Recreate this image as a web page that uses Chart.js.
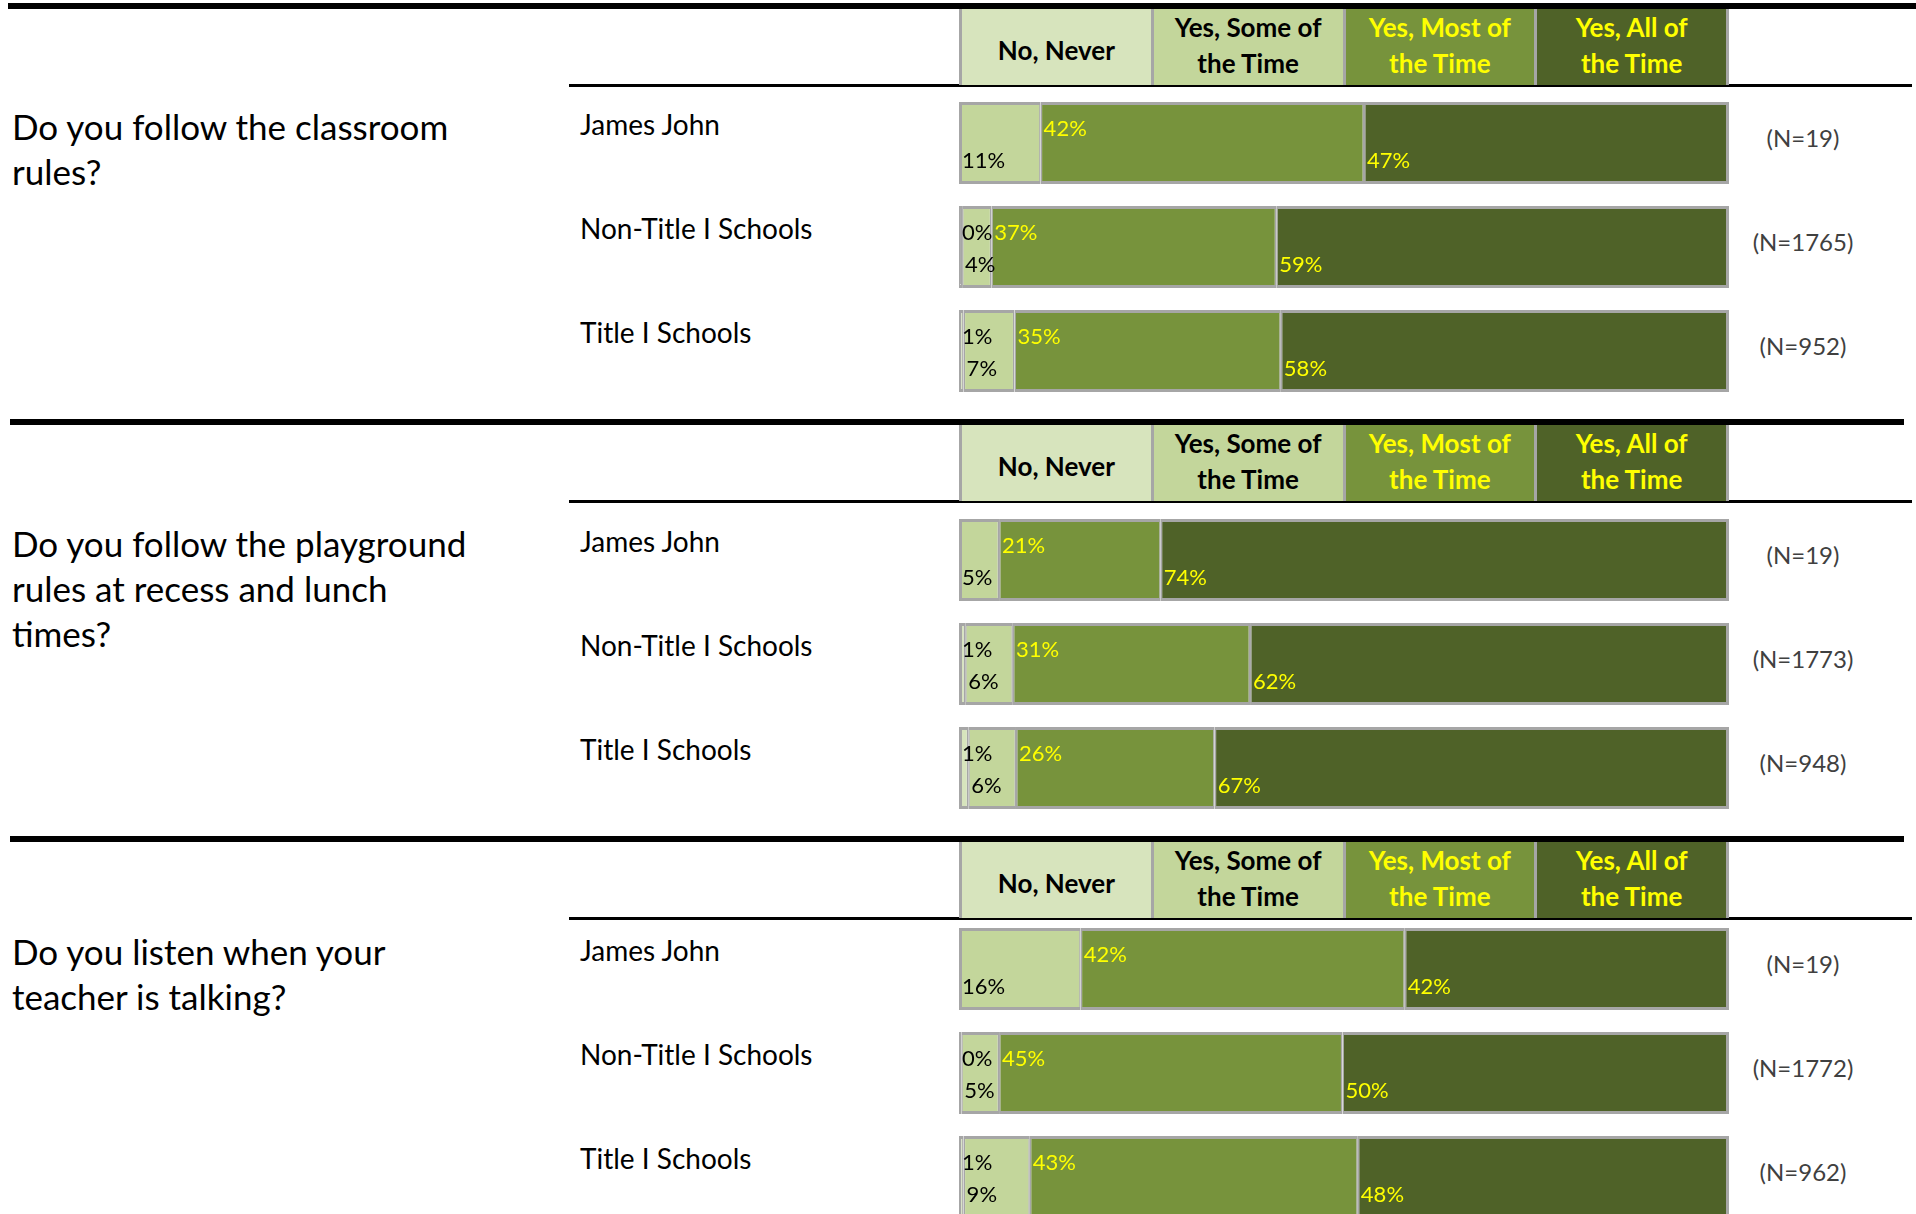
<!DOCTYPE html>
<html>
<head>
<meta charset="utf-8">
<title>Rule following survey</title>
<script src="https://cdn.jsdelivr.net/npm/chart.js@4.4.1/dist/chart.umd.min.js"></script>
<style>
  body { margin: 0; width: 1916px; height: 1214px; overflow: hidden; background: #fff;
         font-family: Lato, "Open Sans", sans-serif; color: #000; position: relative; }
  .rule { position: absolute; background: #000; }
  .question { position: absolute; left: 12px; font-size: 35px; line-height: 45px; white-space: nowrap; }
  .group { position: absolute; left: 580px; font-size: 28px; line-height: 34px; white-space: nowrap; }
  .count { position: absolute; left: 1733px; width: 140px; text-align: center; font-size: 24px;
           line-height: 30px; color: #404040; }
  .legend { position: absolute; left: 959px; width: 770px; height: 76px; display: flex;
            box-sizing: border-box; border-left: 3px solid #a6a6a6; }
  .legend div { flex: 1; display: flex; align-items: center; justify-content: center; text-align: center;
                font-weight: bold; font-size: 26px; line-height: 36px; border-right: 3px solid #a6a6a6; }
  .plot { position: absolute; left: 959px; width: 770px; height: 312px; }
</style>
</head>
<body>
<script>
/* ── DATA ─────────────────────────────────────────────────────────── */
const questionLines = [
  ['Do you follow the classroom', 'rules?'],
  ['Do you follow the playground', 'rules at recess and lunch', 'times?'],
  ['Do you listen when your', 'teacher is talking?'],
];
const groups = ['James John', 'Non-Title I Schools', 'Title I Schools'];
const responses = ['No, Never', 'Yes, Some of the Time', 'Yes, Most of the Time', 'Yes, All of the Time'];
const responseLines = [['No, Never'], ['Yes, Some of', 'the Time'], ['Yes, Most of', 'the Time'], ['Yes, All of', 'the Time']];

// percent of students per question (rows) and group (columns)
const neverPct = [[0, 0.4, 0.6], [0, 0.8, 1.2], [0, 0.3, 0.6]];
const somePct  = [[10.6, 3.8, 6.6], [5.2, 6.2, 6.2], [15.8, 4.9, 8.6]];
const mostPct  = [[42.0, 37.0, 34.6], [21.0, 30.8, 25.8], [42.1, 44.6, 42.6]];
const allPct   = [[47.4, 58.8, 58.2], [73.8, 62.2, 66.8], [42.1, 50.2, 48.2]];
const sampleSizes = [[19, 1765, 952], [19, 1773, 948], [19, 1772, 962]];

/* ── STYLE ────────────────────────────────────────────────────────── */
const fills = ['#d7e4bd', '#c3d69b', '#77933c', '#4f6228'];
const textColors = ['#000', '#000', '#ffff00', '#ffff00'];
const edge = '#a6a6a6';

// vertical placement of each question block
const ruleY    = [3, 419, 836];
const ruleSpan = [[8, 1916], [10, 1904], [10, 1904]];
const barTop   = [101.5, 519, 927.5];
const askBase  = [140, 557, 965];
const rowStep  = 104;

/* ── HELPERS ──────────────────────────────────────────────────────── */
function el(cls, css, html) {
  const d = document.createElement('div');
  d.className = cls;
  Object.assign(d.style, css);
  if (html !== undefined) d.innerHTML = html;
  document.body.appendChild(d);
  return d;
}

// segment borders: full at the bar ends, half where two segments meet
function segBorder(ctx) {
  if (ctx.dataIndex === undefined) return 2;
  const vals = ctx.chart.data.datasets.map(d => d.data[ctx.dataIndex]);
  const first = vals.findIndex(v => v > 0);
  let last = vals.length - 1;
  while (last > 0 && !(vals[last] > 0)) last--;
  return {
    top: 3, bottom: 3,
    left: ctx.datasetIndex === first ? 3 : 1.5,
    right: ctx.datasetIndex === last ? 3 : 1.5,
  };
}

// percentage text at the left of each segment, alternating top / bottom rows
const segmentLabels = {
  id: 'segmentLabels',
  afterDatasetsDraw(chart) {
    const c = chart.ctx;
    c.save();
    c.font = '22px Lato, "Open Sans", sans-serif';
    c.textBaseline = 'alphabetic';
    chart.data.datasets.forEach((ds, di) => {
      chart.getDatasetMeta(di).data.forEach((bar, i) => {
        const v = ds.data[i];
        if (!v) return;
        const left = Math.min(bar.x, bar.base);
        const top = bar.y - bar.height / 2;
        c.fillStyle = textColors[di];
        c.fillText(Math.round(v) + '%', left + 3, top + (di % 2 === 0 ? 34 : 66));
      });
    });
    c.restore();
  }
};

/* ── BUILD EACH QUESTION BLOCK ────────────────────────────────────── */
questionLines.forEach((lines, q) => {
  const y0 = ruleY[q];

  // heavy rule above the block, thin rule under the legend
  el('rule', { left: ruleSpan[q][0] + 'px', top: y0 + 'px', width: (ruleSpan[q][1] - ruleSpan[q][0]) + 'px', height: '6px' });
  el('rule', { left: '569px', top: (y0 + 81) + 'px', width: '1343px', height: '3px' });

  // response legend as colour cells
  const legend = el('legend', { top: (y0 + 6) + 'px' });
  responseLines.forEach((ls, k) => {
    const cell = document.createElement('div');
    cell.style.background = fills[k];
    cell.style.color = textColors[k];
    cell.style.paddingBottom = ls.length === 1 ? '0' : '5px';
    if (ls.length === 1) cell.style.paddingTop = '6px';
    cell.innerHTML = ls.join('<br>');
    legend.appendChild(cell);
  });

  el('question', { top: (askBase[q] - 36.3) + 'px' }, lines.join('<br>'));

  groups.forEach((g, i) => {
    const bt = barTop[q] + i * rowStep;
    el('group', { top: (bt + 5) + 'px' }, g);
    el('count', { top: (bt + 41 - 20) + 'px' }, '(N=' + sampleSizes[q][i] + ')');
  });

  const wrap = el('plot', { top: (barTop[q] - 11) + 'px' });
  const canvas = document.createElement('canvas');
  wrap.appendChild(canvas);

  const series = [neverPct[q], somePct[q], mostPct[q], allPct[q]];
  new Chart(canvas, {
    type: 'bar',
    data: {
      labels: groups,
      datasets: responses.map((r, k) => ({
        label: r,
        data: series[k],
        backgroundColor: fills[k],
        borderColor: edge,
        borderWidth: segBorder,
        borderSkipped: false,
        barPercentage: 0.79,
        categoryPercentage: 1,
      }))
    },
    options: {
      indexAxis: 'y',
      responsive: true,
      maintainAspectRatio: false,
      animation: false,
      layout: { padding: 0 },
      plugins: { legend: { display: false }, tooltip: { enabled: false } },
      scales: {
        x: { stacked: true, min: 0, max: 100, display: false },
        y: { stacked: true, display: false },
      }
    },
    plugins: [segmentLabels]
  });
});
</script>
</body>
</html>
